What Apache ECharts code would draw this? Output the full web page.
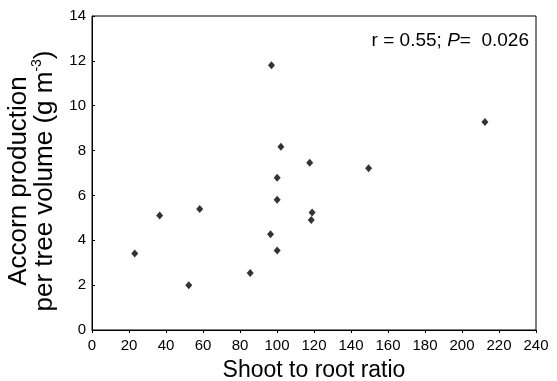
<!DOCTYPE html>
<html>
<head>
<meta charset="utf-8">
<script src="https://cdn.jsdelivr.net/npm/echarts@6/dist/echarts.min.js"></script>
<style>
  html, body { margin: 0; padding: 0; background: #fff; }
  #chart { width: 557px; height: 381px; }
</style>
</head>
<body>
<div id="chart"></div>
<script>
// shoot to root ratio vs acorn production per tree volume
const shootRoot = [97, 212.4, 102.1, 117.7, 149.5, 100.1, 100.1, 58.2, 36.6, 119.0, 118.5, 96.5, 100.1, 23.1, 85.5, 52.3]
const acorn     = [11.8, 9.27, 8.17, 7.46, 7.21, 6.79, 5.81, 5.40, 5.10, 5.24, 4.90, 4.27, 3.55, 3.41, 2.54, 1.99]
const statsText = ['r = 0.55; ', 'P', '=  0.026']

const points = shootRoot.map((x, i) => [x, acorn[i]])

const chart = echarts.init(document.getElementById('chart'))
const font = 'Liberation Sans, Arial, sans-serif'

chart.setOption({
  animation: false,
  backgroundColor: '#fff',
  textStyle: { fontFamily: font },
  grid: {
    left: 92, right: 21, top: 16, bottom: 51,
    outerBoundsMode: 'none', containLabel: false,
    show: true, borderColor: '#000', borderWidth: 1,
  },
  xAxis: {
    type: 'value', min: 0, max: 240, interval: 20,
    name: 'Shoot to root ratio', nameLocation: 'middle', nameGap: 29,
    nameTextStyle: { color: '#000', fontSize: 23, fontFamily: font },
    axisLine: { show: true, lineStyle: { color: '#000', width: 1 } },
    axisTick: { show: true, length: 3, lineStyle: { color: '#000' } },
    axisLabel: { color: '#000', fontSize: 15, margin: 8, fontFamily: font },
    splitLine: { show: false },
  },
  yAxis: {
    type: 'value', min: 0, max: 14, interval: 2,
    name: '{a|Accorn production}\n{a|per tree volume (g m}{sup|-3}{a|)}',
    nameLocation: 'middle', nameGap: 29,
    nameTextStyle: {
      color: '#000', fontFamily: font, lineHeight: 26,
      padding: [0, 16, 0, 0],
      rich: {
        a: { fontSize: 26, color: '#000', fontFamily: font, lineHeight: 26 },
        sup: { fontSize: 14, color: '#000', fontFamily: font, lineHeight: 26, padding: [0, 0, 14, 0] },
      },
    },
    axisLine: { show: true, lineStyle: { color: '#000', width: 1 } },
    axisTick: { show: true, inside: true, length: 3, lineStyle: { color: '#000' } },
    axisLabel: { color: '#000', fontSize: 15, margin: 6, fontFamily: font },
    splitLine: { show: false },
  },
  series: [{
    type: 'scatter',
    data: points,
    symbol: 'diamond',
    symbolSize: [7, 8],
    itemStyle: { color: '#000' },
  }],
  graphic: [{
    type: 'text',
    right: 28, top: 31,
    style: {
      text: `{n|${statsText[0]}}{i|${statsText[1]}}{n|${statsText[2]}}`,
      rich: {
        n: { fontSize: 19, fontFamily: font, fill: '#000' },
        i: { fontSize: 19, fontFamily: font, fontStyle: 'italic', fill: '#000' },
      },
    },
  }],
})
</script>
</body>
</html>
